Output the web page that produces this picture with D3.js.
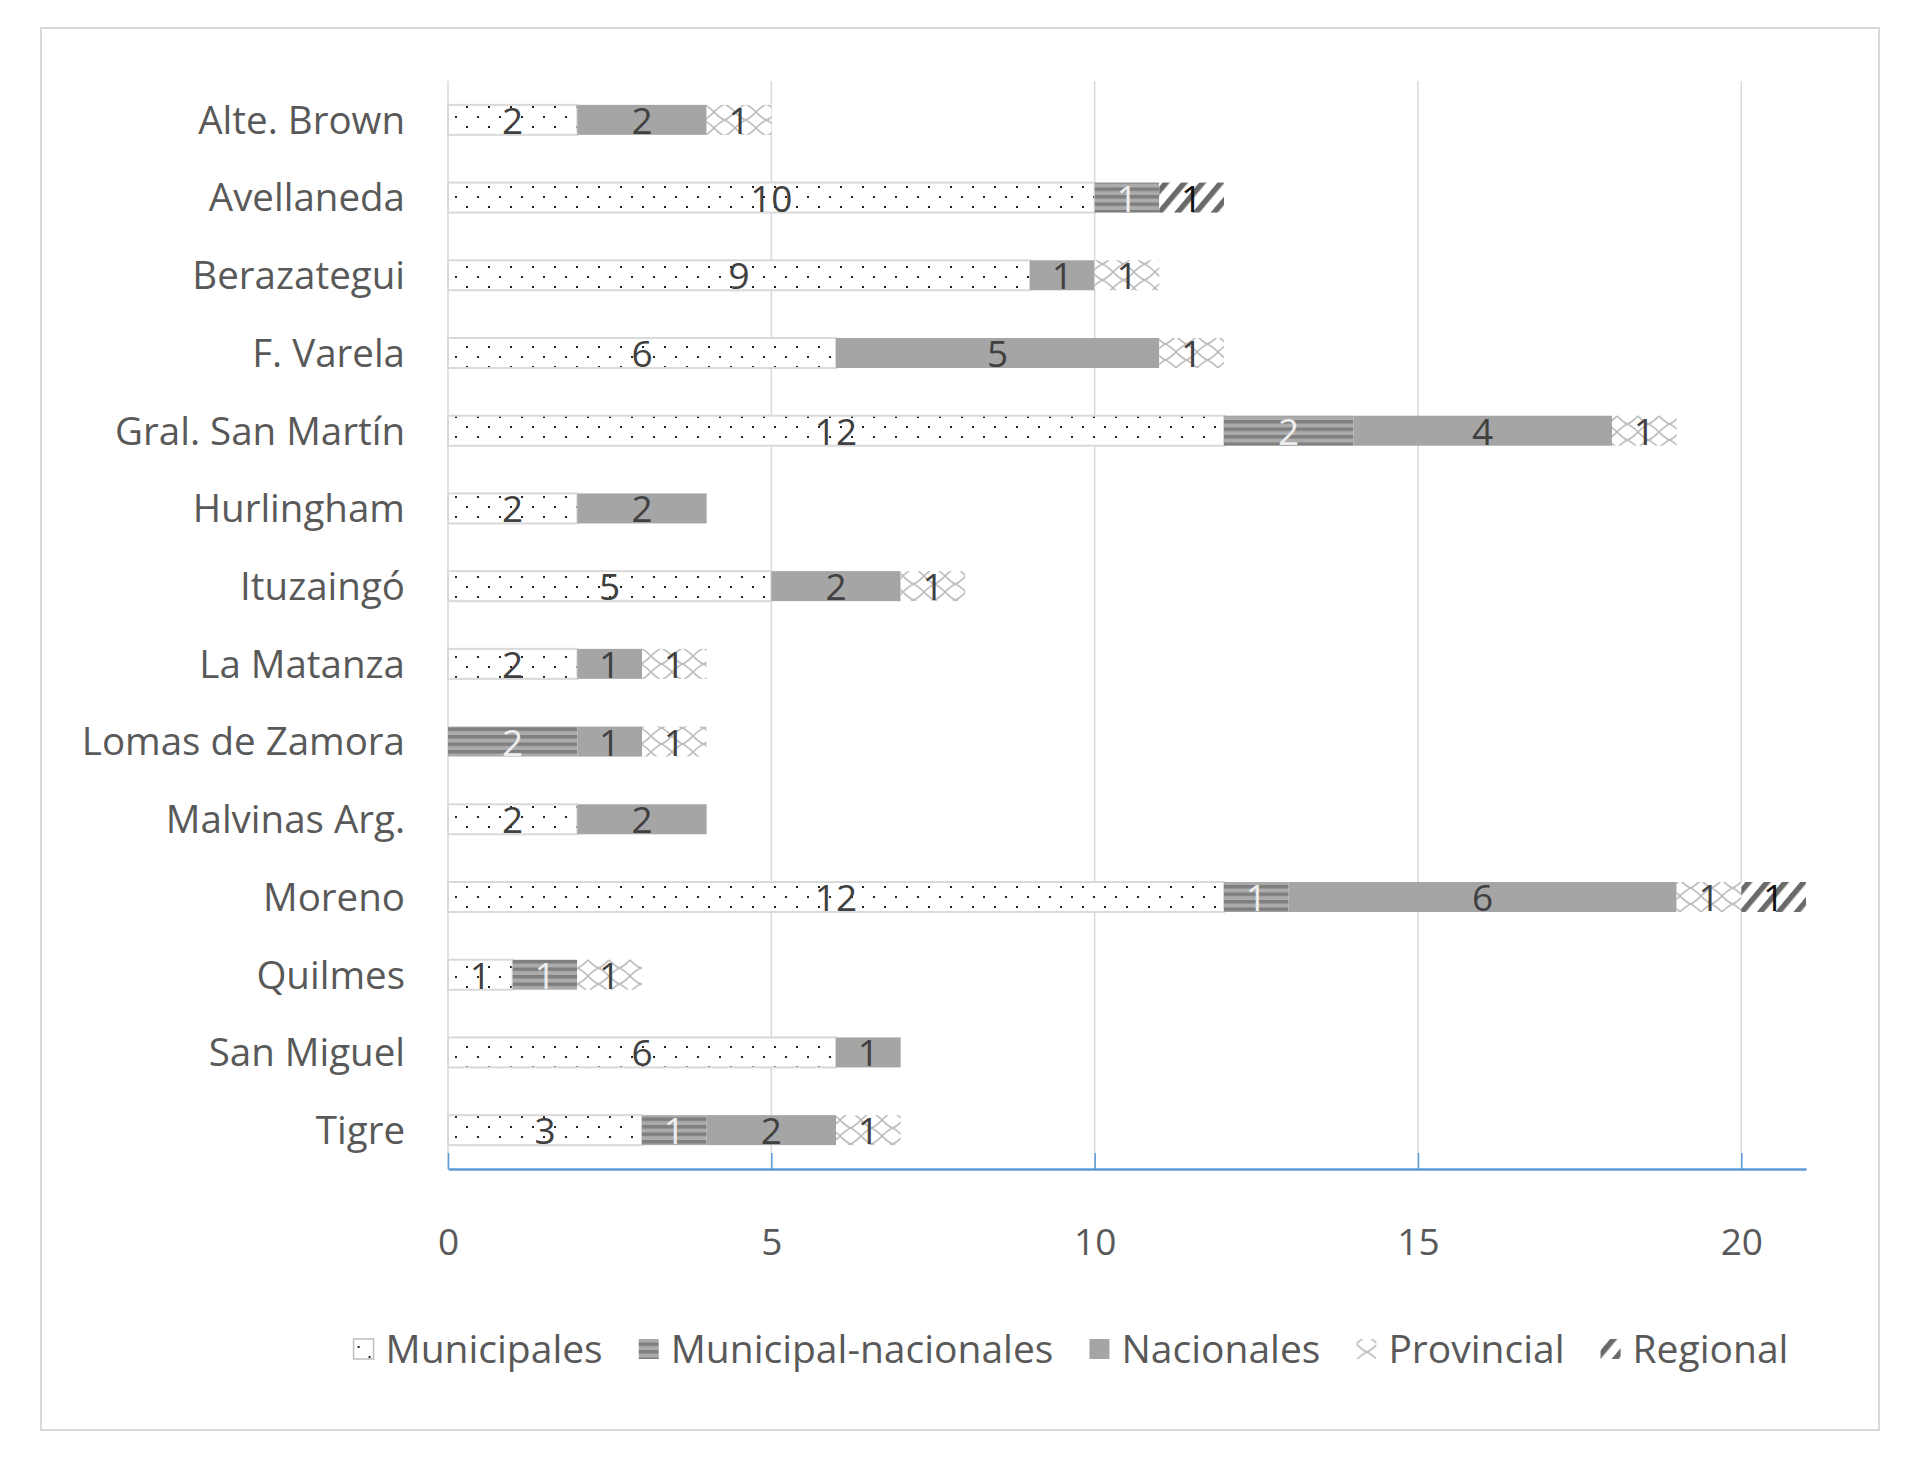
<!DOCTYPE html>
<html>
<head>
<meta charset="utf-8">
<script src="https://cdn.jsdelivr.net/npm/d3@7/dist/d3.min.js"></script>
<style>
  html, body { margin: 0; padding: 0; background: #fff; }
  svg { display: block; }
  text { font-family: "Open Sans", "Noto Sans", sans-serif; }
</style>
</head>
<body>
<svg id="chart" width="1914" height="1468"></svg>
<script>
const categories = ["Alte. Brown", "Avellaneda", "Berazategui", "F. Varela", "Gral. San Martín",
  "Hurlingham", "Ituzaingó", "La Matanza", "Lomas de Zamora", "Malvinas Arg.",
  "Moreno", "Quilmes", "San Miguel", "Tigre"];
const seriesNames = ["Municipales", "Municipal-nacionales", "Nacionales", "Provincial", "Regional"];
const municipales         = [2, 10, 9, 6, 12, 2, 5, 2, 0, 2, 12, 1, 6, 3];
const municipalNacionales = [0, 1, 0, 0, 2, 0, 0, 0, 2, 0, 1, 1, 0, 1];
const nacionales          = [2, 0, 1, 5, 4, 2, 2, 1, 1, 2, 6, 0, 1, 2];
const provincial          = [1, 0, 1, 1, 1, 0, 1, 1, 1, 0, 1, 1, 0, 1];
const regional            = [0, 1, 0, 0, 0, 0, 0, 0, 0, 0, 1, 0, 0, 0];
const xTicks = [0, 5, 10, 15, 20];
const xMax = 21;

const seriesValues = [municipales, municipalNacionales, nacionales, provincial, regional];
const rows = categories.map((c, i) => {
  const r = { cat: c };
  seriesNames.forEach((s, j) => r[s] = seriesValues[j][i]);
  return r;
});

const svg = d3.select("#chart");
const defs = svg.append("defs");

// Patterns
const pDots = defs.append("pattern").attr("id", "pat0").attr("patternUnits", "userSpaceOnUse")
  .attr("width", 22).attr("height", 20);
pDots.append("rect").attr("width", 22).attr("height", 20).attr("fill", "#fff");
pDots.append("rect").attr("x", 4).attr("y", 6).attr("width", 2).attr("height", 2).attr("fill", "#222");
pDots.append("rect").attr("x", 15).attr("y", 16).attr("width", 2).attr("height", 2).attr("fill", "#222");

const pStripes = defs.append("pattern").attr("id", "pat1").attr("patternUnits", "userSpaceOnUse")
  .attr("width", 8).attr("height", 7.5);
pStripes.append("rect").attr("width", 8).attr("height", 7.5).attr("fill", "#ababab");
pStripes.append("rect").attr("y", 0).attr("width", 8).attr("height", 3.5).attr("fill", "#7f7f7f");

const pWave = defs.append("pattern").attr("id", "pat3").attr("patternUnits", "userSpaceOnUse")
  .attr("width", 21).attr("height", 16);
pWave.append("rect").attr("width", 21).attr("height", 16).attr("fill", "#fff");
pWave.append("path").attr("d", "M0,0 Q6,6 10.5,8 Q15,10 21,16 M21,0 Q15,6 10.5,8 Q6,10 0,16")
  .attr("fill", "none").attr("stroke", "#bdbdbd").attr("stroke-width", 1.6);

const pDiag = defs.append("pattern").attr("id", "pat4").attr("patternUnits", "userSpaceOnUse")
  .attr("width", 14).attr("height", 14).attr("patternTransform", "rotate(40)");
pDiag.append("rect").attr("width", 14).attr("height", 14).attr("fill", "#fff");
pDiag.append("rect").attr("x", 0).attr("width", 5.5).attr("height", 14).attr("fill", "#6a6a6a");

const fills = ["url(#pat0)", "url(#pat1)", "#a5a5a5", "url(#pat3)", "url(#pat4)"];
const labelColors = ["#404040", "#eeeeee", "#404040", "#404040", "#111"];

// Outer border
svg.append("rect").attr("x", 41).attr("y", 28).attr("width", 1838).attr("height", 1402)
  .attr("fill", "none").attr("stroke", "#d9d9d9").attr("stroke-width", 2);

const x = d3.scaleLinear().domain([0, xMax]).range([448, 1806]);
const y = d3.scaleBand().domain(categories).range([81, 1169]).paddingInner(0.614).paddingOuter(0.307);

// gridlines
svg.append("g").selectAll("line").data(xTicks).join("line")
  .attr("x1", d => x(d)).attr("x2", d => x(d))
  .attr("y1", 81).attr("y2", 1169)
  .attr("stroke", "#d9d9d9").attr("stroke-width", 1.5);

const stack = d3.stack().keys(seriesNames)(rows);

const gBars = svg.append("g");
stack.forEach((layer, si) => {
  layer.forEach(seg => {
    const v = seg[1] - seg[0];
    if (v <= 0) return;
    const cat = seg.data.cat;
    gBars.append("rect")
      .attr("x", x(seg[0])).attr("y", y(cat))
      .attr("width", x(seg[1]) - x(seg[0])).attr("height", y.bandwidth())
      .attr("fill", fills[si])
      .attr("stroke", si === 0 ? "#d9d9d9" : "none")
      .attr("stroke-width", si === 0 ? 2 : 0);
  });
});
// labels
const gLab = svg.append("g");
stack.forEach((layer, si) => {
  layer.forEach(seg => {
    const v = seg[1] - seg[0];
    if (v <= 0) return;
    const cat = seg.data.cat;
    gLab.append("text")
      .attr("x", (x(seg[0]) + x(seg[1])) / 2)
      .attr("y", y(cat) + y.bandwidth() / 2)
      .attr("dy", "0.38em")
      .attr("text-anchor", "middle")
      .attr("font-size", 37)
      .attr("fill", labelColors[si])
      .text(v);
  });
});

// y axis labels
svg.append("g").selectAll("text").data(categories).join("text")
  .attr("x", 405).attr("y", d => y(d) + y.bandwidth() / 2)
  .attr("dy", "0.36em").attr("text-anchor", "end")
  .attr("font-size", 38.5).attr("fill", "#595959")
  .text(d => d);

// x axis
const xAxis = d3.axisBottom(x).tickValues(xTicks).tickSize(-16).tickSizeOuter(0)
  .tickPadding(60).tickFormat(d3.format("d"));
const gx = svg.append("g").attr("transform", "translate(0,1169)").call(xAxis);
gx.select(".domain").attr("stroke", "#5b9bd5").attr("stroke-width", 2.5);
gx.selectAll(".tick line").attr("stroke", "#5b9bd5").attr("stroke-width", 1.5);
gx.selectAll(".tick text").attr("font-size", 37).attr("fill", "#595959")
  .attr("font-family", "'Open Sans', sans-serif");

// legend
const legend = svg.append("g");
const legY = 1349;
const items = [];
seriesNames.forEach((s, i) => {
  const g = legend.append("g");
  g.append("rect").attr("x", 0).attr("y", legY - 10).attr("width", 20).attr("height", 20)
    .attr("fill", fills[i]).attr("stroke", i === 0 ? "#bfbfbf" : "none").attr("stroke-width", 1.5);
  const t = g.append("text").attr("x", 32).attr("y", legY).attr("dy", "0.36em")
    .attr("font-size", 39).attr("fill", "#595959").text(s);
  items.push({ g, w: 32 + t.node().getComputedTextLength() });
});
const gap = 36;
const total = d3.sum(items, d => d.w) + gap * (items.length - 1);
let cx = 1071 - total / 2;
items.forEach(it => { it.g.attr("transform", `translate(${cx},0)`); cx += it.w + gap; });
</script>
</body>
</html>
